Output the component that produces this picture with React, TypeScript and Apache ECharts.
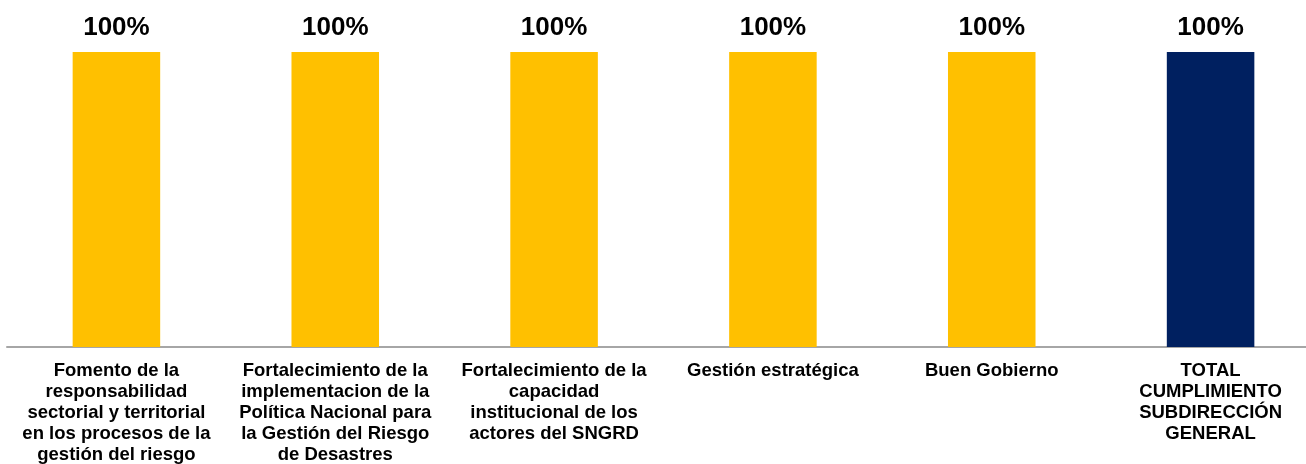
import React, { useEffect, useRef } from "react";
import * as echarts from "echarts";

const categories = [
  "Fomento de la\nresponsabilidad\nsectorial y territorial\nen los procesos de la\ngestión del riesgo",
  "Fortalecimiento de la\nimplementacion de la\nPolítica Nacional para\nla Gestión del Riesgo\nde Desastres",
  "Fortalecimiento de la\ncapacidad\ninstitucional de los\nactores del SNGRD",
  "Gestión estratégica",
  "Buen Gobierno",
  "TOTAL\nCUMPLIMIENTO\nSUBDIRECCIÓN\nGENERAL",
];
const values = [100, 100, 100, 100, 100, 100];
const barColors = ["#FFC000", "#FFC000", "#FFC000", "#FFC000", "#FFC000", "#002060"];

export default function App() {
  const ref = useRef<HTMLDivElement>(null);
  useEffect(() => {
    if (!ref.current) return;
    const chart = echarts.init(ref.current, undefined, { renderer: "svg" });
    const font = '"Liberation Sans", Arial, sans-serif';
    chart.setOption({
      animation: false,
      grid: { left: 7, right: 0, top: 52, bottom: 117, containLabel: false },
      xAxis: {
        type: "category",
        data: categories,
        axisTick: { show: false },
        axisLine: { show: true, lineStyle: { color: "#A6A6A6", width: 2 } },
        axisLabel: {
          interval: 0,
          margin: 12,
          color: "#000",
          fontFamily: font,
          fontWeight: "bold",
          fontSize: 18.5,
          lineHeight: 21,
          align: "center",
        },
      },
      yAxis: { type: "value", min: 0, max: 100, show: false, splitLine: { show: false } },
      series: [
        {
          type: "bar",
          barWidth: "40%",
          data: values.map((v, i) => ({ value: v, itemStyle: { color: barColors[i] } })),
          label: {
            show: true,
            position: "top",
            distance: 13,
            formatter: "{c}%",
            color: "#000",
            fontFamily: font,
            fontWeight: "bold",
            fontSize: 26,
          },
        },
      ],
    });
    return () => chart.dispose();
  }, []);
  return (
    <div style={{ position: "fixed", left: 0, top: 0, width: 1306, height: 464, overflow: "hidden" }}>
      <div ref={ref} style={{ width: 1320, height: 464 }} />
    </div>
  );
}
